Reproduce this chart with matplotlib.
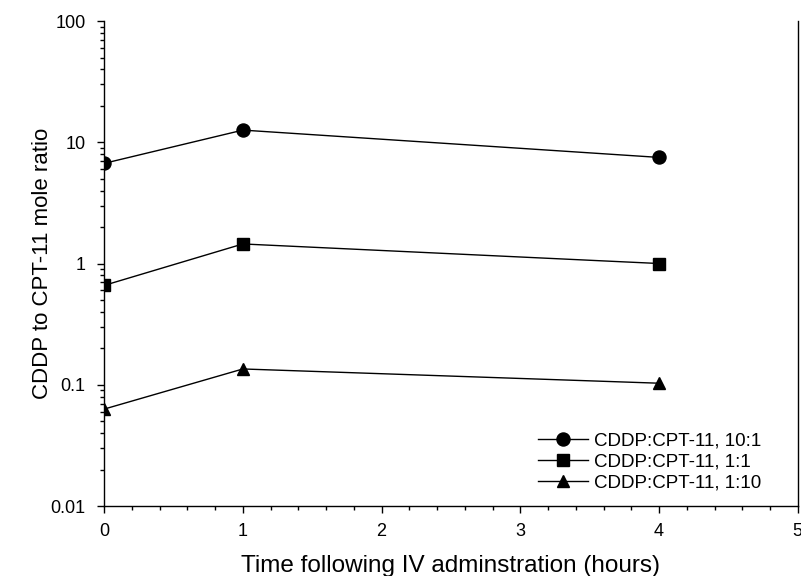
import matplotlib.pyplot as plt
from matplotlib.ticker import LogLocator, MultipleLocator, FixedLocator, FixedFormatter

plt.rcParams['font.family'] = ['Liberation Sans', 'DejaVu Sans']

# Sampling times (hours) and measured mole ratios
hours = [0, 1, 4]
ratio_10_1 = [6.7, 12.6, 7.5]
ratio_1_1 = [0.66, 1.45, 1.0]
ratio_1_10 = [0.063, 0.135, 0.103]

series_labels = ['CDDP:CPT-11, 10:1', 'CDDP:CPT-11, 1:1', 'CDDP:CPT-11, 1:10']
y_ticks = [0.01, 0.1, 1, 10, 100]
y_tick_labels = ['0.01', '0.1', '1', '10', '100']

fig = plt.figure(figsize=(8.01, 5.76), dpi=100)
ax = fig.add_axes([0.130, 0.1215, 0.866, 0.842])

ax.plot(hours, ratio_10_1, color='black', lw=1.0, marker='o', ms=9.4, label=series_labels[0])
ax.plot(hours, ratio_1_1, color='black', lw=1.0, marker='s', ms=8.1, label=series_labels[1])
ax.plot(hours, ratio_1_10, color='black', lw=1.0, marker='^', ms=9.0, label=series_labels[2])

ax.set_yscale('log')
ax.set_ylim(0.01, 100)
ax.set_xlim(0, 5)

ax.yaxis.set_major_locator(FixedLocator(y_ticks))
ax.yaxis.set_major_formatter(FixedFormatter(y_tick_labels))
ax.yaxis.set_minor_locator(LogLocator(base=10, subs=range(2, 10)))
ax.xaxis.set_major_locator(MultipleLocator(1))
ax.xaxis.set_minor_locator(MultipleLocator(0.2))

ax.tick_params(which='major', direction='out', length=5, width=1, labelsize=13, color='black')
ax.tick_params(which='minor', direction='out', length=3, width=1)
ax.tick_params(axis='x', pad=7)
ax.tick_params(axis='y', pad=8.5)

ax.spines['top'].set_visible(False)
for side in ['left', 'bottom', 'right']:
    ax.spines[side].set_linewidth(1.0)

ax.set_xlabel('Time following IV adminstration (hours)', fontsize=17.5, labelpad=11)
ax.set_ylabel('CDDP to CPT-11 mole ratio', fontsize=16, labelpad=-2)

ax.legend(loc='center left', frameon=False, fontsize=13.5, handlelength=2.7,
          handletextpad=0.3, labelspacing=0.22, borderpad=0, borderaxespad=0,
          bbox_to_anchor=(0.625, 0.091))

fig.savefig('out.png', dpi=100)
